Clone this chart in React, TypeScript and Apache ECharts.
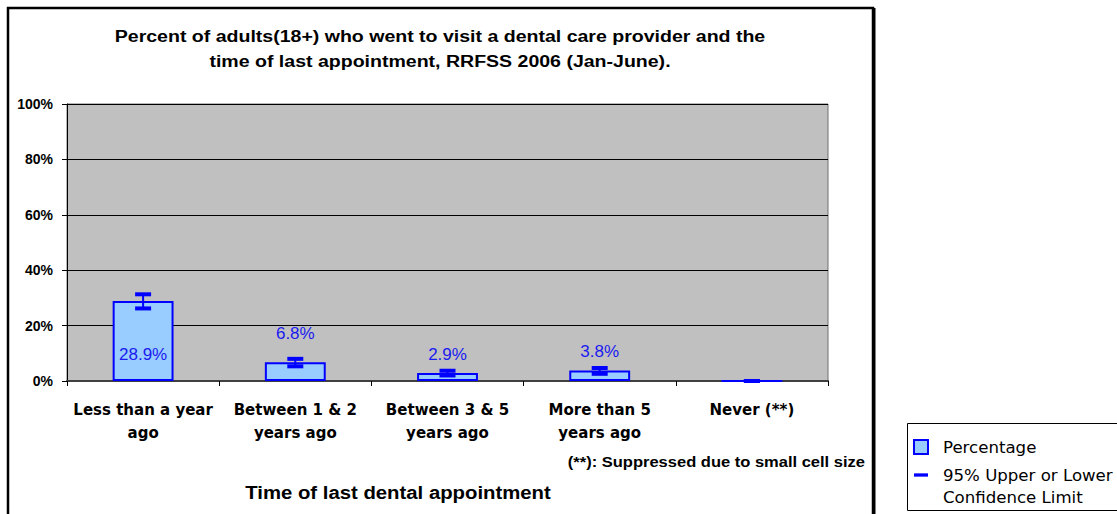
import React, { useEffect, useRef } from "react";
import * as echarts from "echarts";

const categories = [
  "Less than a year\nago",
  "Between 1 & 2\nyears ago",
  "Between 3 & 5\nyears ago",
  "More than 5\nyears ago",
  "Never (**)",
];
const percentages = [28.9, 6.8, 2.9, 3.8, 0];
const lowerCI = [26.2, 5.3, 2.0, 2.6, 0];
const upperCI = [31.3, 8.0, 3.7, 4.7, 0];
const valueLabels = ["28.9%", "6.8%", "2.9%", "3.8%", ""];
const yTicks = [0, 20, 40, 60, 80, 100];

const titleLines = [
  "Percent of adults(18+) who went to visit a dental care provider and the",
  "time of last appointment, RRFSS 2006 (Jan-June).",
];

const BLUE = "#0000FF";
const LABEL_BLUE = "#1A1AF0";

export default function App() {
  const ref = useRef<HTMLDivElement>(null);

  useEffect(() => {
    if (!ref.current) return;
    const chart = echarts.init(ref.current, null, { renderer: "svg" });

    const labelPos: any[] = [
      { position: ["50%", "67%"] },
      { position: ["50%", -29] },
      { position: ["50%", -18] },
      { position: ["50%", -19] },
      { show: false },
    ];

    const barData = percentages.map((v, i) => ({
      value: v,
      label: {
        show: labelPos[i].show !== false,
        position: labelPos[i].position,
        align: "center",
        verticalAlign: "middle",
        formatter: valueLabels[i],
      },
    }));

    const errData = percentages.map((_, i) => [i, lowerCI[i], upperCI[i]]);

    const option: any = {
      animation: false,
      backgroundColor: "#FFFFFF",
      grid: {
        left: 67,
        right: 289,
        top: 104,
        bottom: 133,
        show: true,
        backgroundColor: "#C0C0C0",
        borderColor: "#707070",
        borderWidth: 1,
      },
      xAxis: {
        type: "category",
        data: categories,
        boundaryGap: true,
        axisLine: { show: true, lineStyle: { color: "#404040", width: 2 } },
        axisTick: { show: true, length: 5, lineStyle: { color: "#000000", width: 1 } },
        axisLabel: {
          interval: 0,
          margin: 17,
          fontFamily: "DejaVu Sans",
          fontWeight: "bold",
          fontSize: 15,
          lineHeight: 23,
          color: "#000000",
          align: "center",
        },
      },
      yAxis: {
        type: "value",
        min: 0,
        max: 100,
        interval: 20,
        axisLine: { show: true, lineStyle: { color: "#000000", width: 1 } },
        axisTick: { show: true, length: 5, lineStyle: { color: "#000000" } },
        axisLabel: {
          margin: 14,
          fontFamily: "Liberation Sans",
          fontWeight: "bold",
          fontSize: 14,
          color: "#000000",
          formatter: (v: number) => (yTicks.includes(v) ? v + "%" : ""),
        },
        splitLine: { show: true, lineStyle: { color: "#000000", width: 1 } },
      },
      legend: {
        orient: "vertical",
        left: 913,
        top: 437,
        padding: 0,
        itemWidth: 14,
        itemHeight: 14,
        itemGap: 8,
        textStyle: {
          fontFamily: "DejaVu Sans",
          fontSize: 16.6,
          lineHeight: 20,
          color: "#000000",
          padding: [0, 0, 0, 10],
        },
        data: [
          { name: "Percentage", icon: "rect" },
          {
            name: "95% Upper or Lower",
            icon: "path://M0,0H17V4H0Z",
            itemStyle: { color: BLUE, borderWidth: 0 },
          },
        ],
      },
      series: [
        {
          name: "Percentage",
          type: "bar",
          barWidth: "40%",
          data: barData,
          itemStyle: { color: "#99CCFF", borderColor: BLUE, borderWidth: 2 },
          label: {
            show: true,
            fontFamily: "Liberation Sans",
            fontSize: 17,
            color: LABEL_BLUE,
          },
          z: 2,
        },
        {
          name: "95% Upper or Lower",
          type: "custom",
          itemStyle: { color: BLUE },
          encode: { x: 0, y: [1, 2] },
          data: errData,
          z: 3,
          renderItem: (params: any, api: any) => {
            const idx = api.value(0);
            const lo = api.coord([idx, api.value(1)]);
            const hi = api.coord([idx, api.value(2)]);
            const capW = 16;
            const capH = 4;
            const x = hi[0];
            return {
              type: "group",
              children: [
                {
                  type: "line",
                  shape: { x1: x, y1: hi[1], x2: x, y2: lo[1] },
                  style: { stroke: BLUE, lineWidth: 2 },
                },
                {
                  type: "rect",
                  shape: { x: x - capW / 2, y: hi[1] - capH / 2, width: capW, height: capH },
                  style: { fill: BLUE },
                },
                {
                  type: "rect",
                  shape: { x: x - capW / 2, y: lo[1] - capH / 2, width: capW, height: capH },
                  style: { fill: BLUE },
                },
              ],
            };
          },
        },
      ],
      graphic: [
        {
          type: "rect",
          shape: { x: 8, y: 8, width: 865, height: 530 },
          style: { fill: "none", stroke: "#000000", lineWidth: 2.5 },
          silent: true,
          z: -10,
        },
        {
          type: "line",
          shape: { x1: 874, y1: 8, x2: 874, y2: 520 },
          style: { stroke: "#000000", lineWidth: 3 },
          silent: true,
        },
        {
          type: "text",
          x: 440,
          y: 48.5,
          scaleX: 1.15,
          style: {
            text: titleLines.join("\n"),
            fontFamily: "Liberation Sans",
            fontWeight: "bold",
            fontSize: 17,
            lineHeight: 25,
            fill: "#000000",
            align: "center",
            verticalAlign: "middle",
          },
        },
        {
          type: "text",
          x: 865,
          y: 462,
          scaleX: 1.18,
          style: {
            text: "(**): Suppressed due to small cell size",
            fontFamily: "Liberation Sans",
            fontWeight: "bold",
            fontSize: 14,
            fill: "#000000",
            align: "right",
            verticalAlign: "middle",
          },
        },
        {
          type: "text",
          x: 398,
          y: 493,
          scaleX: 1.13,
          style: {
            text: "Time of last dental appointment",
            fontFamily: "Liberation Sans",
            fontWeight: "bold",
            fontSize: 18,
            fill: "#000000",
            align: "center",
            verticalAlign: "middle",
          },
        },
        {
          type: "rect",
          shape: { x: 907.5, y: 423.5, width: 230, height: 87 },
          style: { fill: "#FFFFFF", stroke: "#000000", lineWidth: 1 },
          z: -5,
          silent: true,
        },
        {
          type: "text",
          x: 943,
          y: 497,
          style: {
            text: "Confidence Limit",
            fontFamily: "DejaVu Sans",
            fontSize: 16.6,
            fill: "#000000",
            align: "left",
            verticalAlign: "middle",
          },
        },
      ],
    };

    chart.setOption(option);
    return () => chart.dispose();
  }, []);

  return (
    <div
      ref={ref}
      style={{ position: "absolute", left: 0, top: 0, width: 1117, height: 514 }}
    />
  );
}
